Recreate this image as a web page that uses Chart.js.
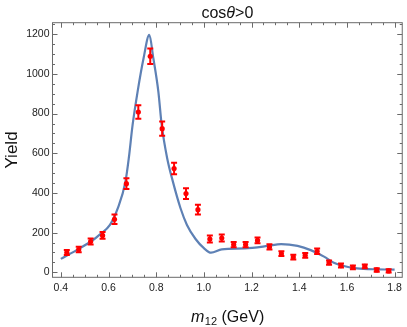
<!DOCTYPE html>
<html>
<head>
<meta charset="utf-8">
<script src="https://cdn.jsdelivr.net/npm/chart.js@4.4.1/dist/chart.umd.min.js"></script>
<style>
  html, body { margin: 0; padding: 0; background: #fff; }
  canvas { display: block; }
</style>
</head>
<body>
<canvas id="yieldChart" width="407" height="327"></canvas>
<script>
// Measured yields per m12 bin (GeV)
const massBins = [0.425, 0.475, 0.525, 0.575, 0.625, 0.675, 0.725, 0.775, 0.825, 0.875,
    0.925, 0.975, 1.025, 1.075, 1.125, 1.175, 1.225, 1.275, 1.325, 1.375,
    1.425, 1.475, 1.525, 1.575, 1.625, 1.675, 1.725, 1.775];
const yieldValues = [100, 115, 155, 186, 267, 447, 808, 1089, 724, 523,
    397, 316, 168, 173, 140, 140, 161, 128, 94, 77,
    86, 106, 49, 34, 25, 30, 12, 7];
const yieldErrors = [13, 14, 15, 17, 24, 27, 34, 39, 36, 29,
    27, 25, 18, 18, 13, 13, 15, 13, 12, 12,
    12, 14, 11, 10, 10, 10, 9, 8];

// Fit curve
const fitMass = [0.40, 0.466, 0.535, 0.563, 0.606, 0.639, 0.671, 0.685, 0.701, 0.722,
    0.747, 0.771, 0.788, 0.809, 0.823, 0.846, 0.870, 0.902, 0.929, 0.965,
    1.000, 1.030, 1.075, 1.172, 1.268, 1.324, 1.393, 1.448, 1.504, 1.545,
    1.587, 1.642, 1.725, 1.800];
const fitYield = [68, 112, 163, 190, 239, 323, 457, 575, 743, 911,
    1079, 1197, 1079, 911, 743, 575, 457, 323, 239, 168,
    122, 99, 116, 121, 133, 142, 133, 112, 79, 48,
    32, 20, 15, 14];

// Tick labels
const xTicks = [0.4, 0.6, 0.8, 1.0, 1.2, 1.4, 1.6, 1.8];
const yTicks = [0, 200, 400, 600, 800, 1000, 1200];

const FONT = "'Liberation Sans', Arial, sans-serif";
const FRAME = '#6a6a6a';
const RED = '#ff0000';

// Error bars drawn under the points dataset
const errorBars = {
    id: 'errorBars',
    beforeDatasetDraw(chart, args) {
        if (args.index !== 0) return;
        const { ctx, scales: { x, y } } = chart;
        ctx.save();
        ctx.strokeStyle = RED;
        ctx.lineWidth = 2;
        massBins.forEach((m, i) => {
            const px = x.getPixelForValue(m);
            const top = y.getPixelForValue(yieldValues[i] + yieldErrors[i]);
            const bot = y.getPixelForValue(yieldValues[i] - yieldErrors[i]);
            ctx.beginPath();
            ctx.moveTo(px, top); ctx.lineTo(px, bot);
            ctx.moveTo(px - 3, top); ctx.lineTo(px + 3, top);
            ctx.moveTo(px - 3, bot); ctx.lineTo(px + 3, bot);
            ctx.stroke();
        });
        ctx.restore();
    }
};

// Frame with inward ticks and the text labels
const frame = {
    id: 'frame',
    afterDraw(chart) {
        const { ctx, chartArea: a, scales: { x, y } } = chart;
        ctx.save();
        ctx.strokeStyle = FRAME;
        ctx.lineWidth = 1;
        ctx.strokeRect(a.left, a.top, a.right - a.left, a.bottom - a.top);

        ctx.beginPath();
        for (let k = 0; k <= 28; k++) {
            const v = 0.4 + k * 0.05;
            const len = k % 4 === 0 ? 5 : 2.5;
            const px = Math.round(x.getPixelForValue(v)) + 0.5;
            ctx.moveTo(px, a.bottom); ctx.lineTo(px, a.bottom - len);
            ctx.moveTo(px, a.top); ctx.lineTo(px, a.top + len);
        }
        for (let k = 0; k <= 25; k++) {
            const v = k * 50;
            const len = k % 4 === 0 ? 5 : 2.5;
            const py = Math.round(y.getPixelForValue(v)) + 0.5;
            ctx.moveTo(a.left, py); ctx.lineTo(a.left + len, py);
            ctx.moveTo(a.right, py); ctx.lineTo(a.right - len, py);
        }
        ctx.stroke();

        // title: cosθ>0
        ctx.fillStyle = '#111';
        ctx.textBaseline = 'alphabetic';
        const cx = (a.left + a.right) / 2;
        const up = '16px ' + FONT, it = 'italic 16px ' + FONT;
        ctx.font = up; const w1 = ctx.measureText('cos').width, w3 = ctx.measureText('>0').width;
        ctx.font = it; const w2 = ctx.measureText('\u03b8').width;
        let sx = cx - (w1 + w2 + w3) / 2;
        ctx.textAlign = 'left';
        ctx.font = up; ctx.fillText('cos', sx, 17.5); sx += w1;
        ctx.font = it; ctx.fillText('\u03b8', sx, 17.5); sx += w2;
        ctx.font = up; ctx.fillText('>0', sx, 17.5);

        // x title: m12 (GeV)
        const sub = '11px ' + FONT;
        ctx.font = it; const m1 = ctx.measureText('m').width;
        ctx.font = sub; const m2 = ctx.measureText('12').width;
        ctx.font = up; const m3 = ctx.measureText(' (GeV)').width;
        sx = cx - (m1 + m2 + m3) / 2;
        ctx.font = it; ctx.fillText('m', sx, 321.5); sx += m1 + 0.5;
        ctx.font = sub; ctx.fillText('12', sx, 325); sx += m2;
        ctx.font = up; ctx.fillText(' (GeV)', sx, 321.5);

        // y title
        ctx.translate(16.5, (a.top + a.bottom) / 2);
        ctx.rotate(-Math.PI / 2);
        ctx.textAlign = 'center';
        ctx.font = '17px ' + FONT;
        ctx.fillText('Yield', 0, 0);
        ctx.restore();
    }
};

new Chart(document.getElementById('yieldChart'), {
    type: 'scatter',
    data: {
        datasets: [
            {
                label: 'data',
                data: massBins.map((m, i) => ({ x: m, y: yieldValues[i] })),
                backgroundColor: RED,
                borderWidth: 0,
                pointRadius: 2.6,
                showLine: false
            },
            {
                label: 'fit',
                data: fitMass.map((m, i) => ({ x: m, y: fitYield[i] })),
                showLine: true,
                borderColor: '#5e81b5',
                borderWidth: 2.2,
                pointRadius: 0,
                cubicInterpolationMode: 'monotone'
            }
        ]
    },
    options: {
        responsive: false,
        animation: false,
        devicePixelRatio: 1,
        layout: { padding: { top: 22.7, right: 1, left: 0, bottom: 0 } },
        plugins: { legend: { display: false }, tooltip: { enabled: false }, title: { display: false } },
        scales: {
            x: {
                type: 'linear',
                min: 0.365,
                max: 1.832,
                afterBuildTicks: s => { s.ticks = xTicks.map(v => ({ value: v })); },
                afterFit: s => { s.height = 49.7; },
                grid: { display: false, drawTicks: false },
                border: { display: false },
                ticks: {
                    padding: 5,
                    color: '#222',
                    font: { family: FONT, size: 10.5 },
                    maxRotation: 0,
                    callback: v => v.toFixed(1)
                }
            },
            y: {
                min: -25,
                max: 1258,
                afterBuildTicks: s => { s.ticks = yTicks.map(v => ({ value: v })); },
                afterFit: s => { s.width = 52.5; },
                grid: { display: false, drawTicks: false },
                border: { display: false },
                ticks: {
                    padding: 3,
                    color: '#222',
                    font: { family: FONT, size: 10.5 },
                    callback: v => String(v)
                }
            }
        }
    },
    plugins: [errorBars, frame]
});
</script>
</body>
</html>
